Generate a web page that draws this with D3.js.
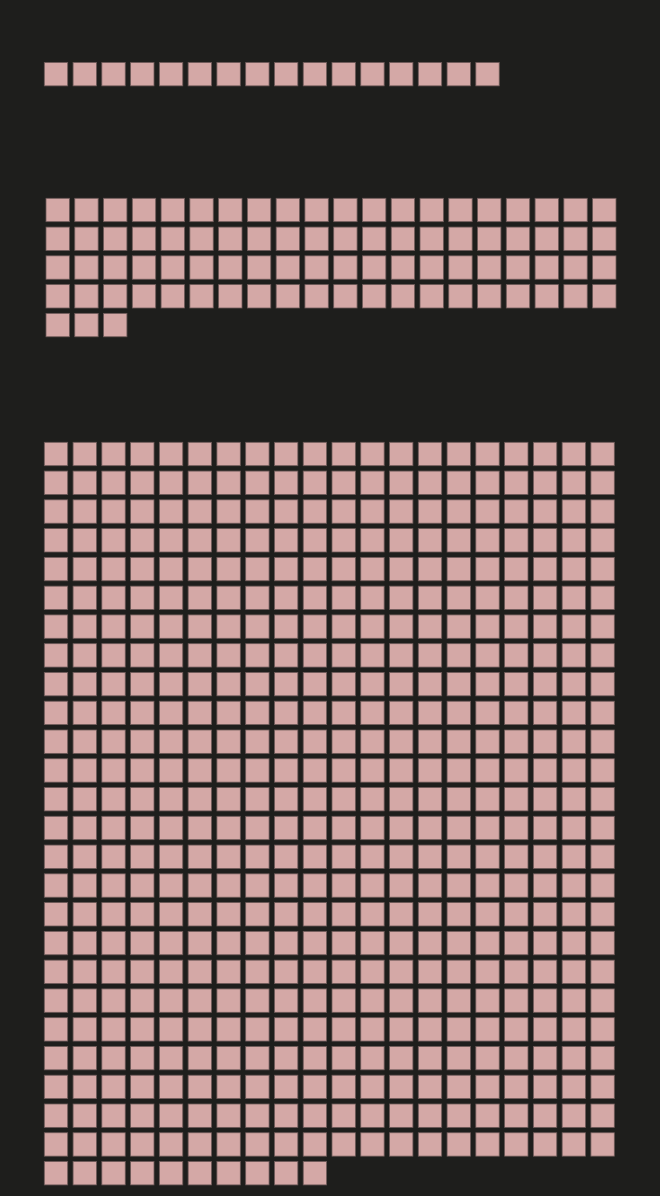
<!DOCTYPE html>
<html>
<head>
<meta charset="utf-8">
<script src="https://cdn.jsdelivr.net/npm/d3@7"></script>
<style>
  html, body { margin: 0; padding: 0; background: #1e1e1c; }
  svg { display: block; }
</style>
</head>
<body>
<script>
// ---- data ----
const groups = ["Group 1", "Group 2", "Group 3"];
const counts = [16, 83, 510];
const columns = 20;

// ---- layout ----
const W = 660, H = 1196;
const groupLeft = [44.3, 46, 44.3];
const groupTop = [60.3, 198.3, 442.3];

const svg = d3.select("body").append("svg")
  .attr("width", W).attr("height", H)
  .style("background", "#1e1e1c");

const col = d3.scaleBand()
  .domain(d3.range(columns))
  .range([0, 570])
  .paddingInner(0.187)
  .paddingOuter(0);

const step = col.step();
const size = col.bandwidth();

groups.forEach((g, gi) => {
  const n = counts[gi];
  const rows = Math.ceil(n / columns);
  const row = d3.scaleBand()
    .domain(d3.range(rows))
    .range([0, rows * step - (step - size)])
    .paddingInner(0.187)
    .paddingOuter(0);
  const units = d3.range(n).map(i => ({ i, c: i % columns, r: Math.floor(i / columns) }));
  svg.append("g")
    .attr("class", "group")
    .attr("transform", `translate(${groupLeft[gi]},${groupTop[gi]})`)
    .selectAll("rect")
    .data(units)
    .join("rect")
    .attr("x", d => col(d.c))
    .attr("y", d => row(d.r))
    .attr("width", size)
    .attr("height", size)
    .attr("fill", "#d4a8a6")
    .attr("stroke", "#6e5a59")
    .attr("stroke-width", 0.8);
});
</script>
</body>
</html>
